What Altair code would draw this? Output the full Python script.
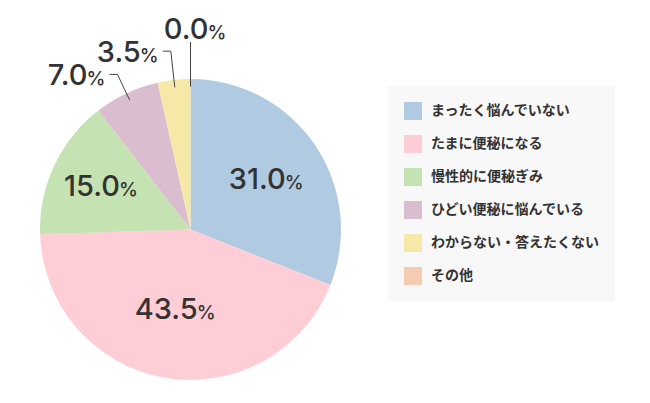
import altair as alt
import pandas as pd

categories = ["まったく悩んでいない", "たまに便秘になる", "慢性的に便秘ぎみ",
              "ひどい便秘に悩んでいる", "わからない・答えたくない", "その他"]
values = [31.0, 43.5, 15.0, 7.0, 3.5, 0.0]
colors = ["#b0cbe1", "#ffcdd6", "#c5e2b2", "#dabdce", "#f6e8a6", "#f5ccb2"]

df = pd.DataFrame({"cat": categories, "value": values, "order": list(range(len(values)))})

CX, CY, R = 182.5, 221.5, 150.5
R1 = 143
TXT = "#333333"
NUM_FONT = "Inter"

base = alt.Chart(df)

pie = base.mark_arc(outerRadius=R).encode(
    x=alt.value(CX),
    y=alt.value(CY),
    theta=alt.Theta("value:Q", stack=True),
    order=alt.Order("order:Q"),
    color=alt.Color(
        "cat:N",
        sort=categories,
        scale=alt.Scale(domain=categories, range=colors),
        legend=alt.Legend(
            orient="none", legendX=380, legendY=78, title=None,
            fillColor="#f8f8f8", padding=16,
            symbolType="square", symbolSize=324, symbolStrokeWidth=0,
            symbolOpacity=1,
            labelFontSize=14, labelFont="Noto Sans CJK JP",
            labelFontWeight="bold", labelColor=TXT,
            rowPadding=15, labelOffset=9, labelLimit=400,
        ),
    ),
)

geo = (
    base.transform_window(cum="sum(value)", sort=[alt.SortField("order")], frame=[None, 0])
    .transform_joinaggregate(total="sum(value)")
    .transform_calculate(mid="2*PI*(datum.cum - datum.value/2)/datum.total")
    .transform_calculate(
        s="sin(datum.mid)", c="cos(datum.mid)",
        # smaller slices get a longer leader so their labels stagger
        r2="187.5 - 2.3*datum.value",
        # larger slices keep their label a little nearer the centre
        rin="112 - 0.72*datum.value",
    )
    .transform_calculate(
        inside="datum.value >= 10",
        top="abs(datum.s) < 0.05",
        x1=f"{CX} + {R1}*datum.s",
        y1=f"{CY} - {R1}*datum.c",
        x2=f"{CX} + datum.r2*datum.s",
        y2=f"{CY} - datum.r2*datum.c",
    )
    .transform_calculate(
        hx="datum.x2 - 8",
        numX=f"datum.inside ? {CX} + datum.rin*datum.s + 21 : (datum.top ? datum.x2 + 18 : datum.x2 - 30)",
        numY=f"datum.inside ? {CY} - datum.rin*datum.c + 10 : (datum.top ? datum.y2 - 3 : datum.y2 + 11)",
        numLabel="format(datum.value, '.1f')",
        pct="'%'",
    )
    .transform_calculate(pctX="datum.numX - 1")
)

radial = geo.transform_filter("datum.value < 10").mark_rule(color="#444444", strokeWidth=1).encode(
    x=alt.X("x1:Q", scale=None), y=alt.Y("y1:Q", scale=None),
    x2="x2:Q", y2="y2:Q",
)
horiz = geo.transform_filter("datum.value < 10 && !datum.top").mark_rule(color="#444444", strokeWidth=1).encode(
    x=alt.X("x2:Q", scale=None), y=alt.Y("y2:Q", scale=None),
    x2="hx:Q", y2="y2:Q",
)

num = geo.mark_text(align="right", baseline="alphabetic", fontSize=29, font=NUM_FONT,
                    fontWeight=500, color=TXT).encode(
    x=alt.X("numX:Q", scale=None), y=alt.Y("numY:Q", scale=None), text="numLabel:N",
)
pct = geo.mark_text(align="left", baseline="alphabetic", fontSize=19, font=NUM_FONT,
                    fontWeight=500, color=TXT).encode(
    x=alt.X("pctX:Q", scale=None), y=alt.Y("numY:Q", scale=None), text="pct:N",
)

chart = alt.layer(pie, radial, horiz, num, pct).properties(
    width=634, height=387, autosize="none", padding=0, background="white",
).configure_view(stroke=None)

chart.save("out.html", embed_options={"renderer": "svg", "actions": False})
